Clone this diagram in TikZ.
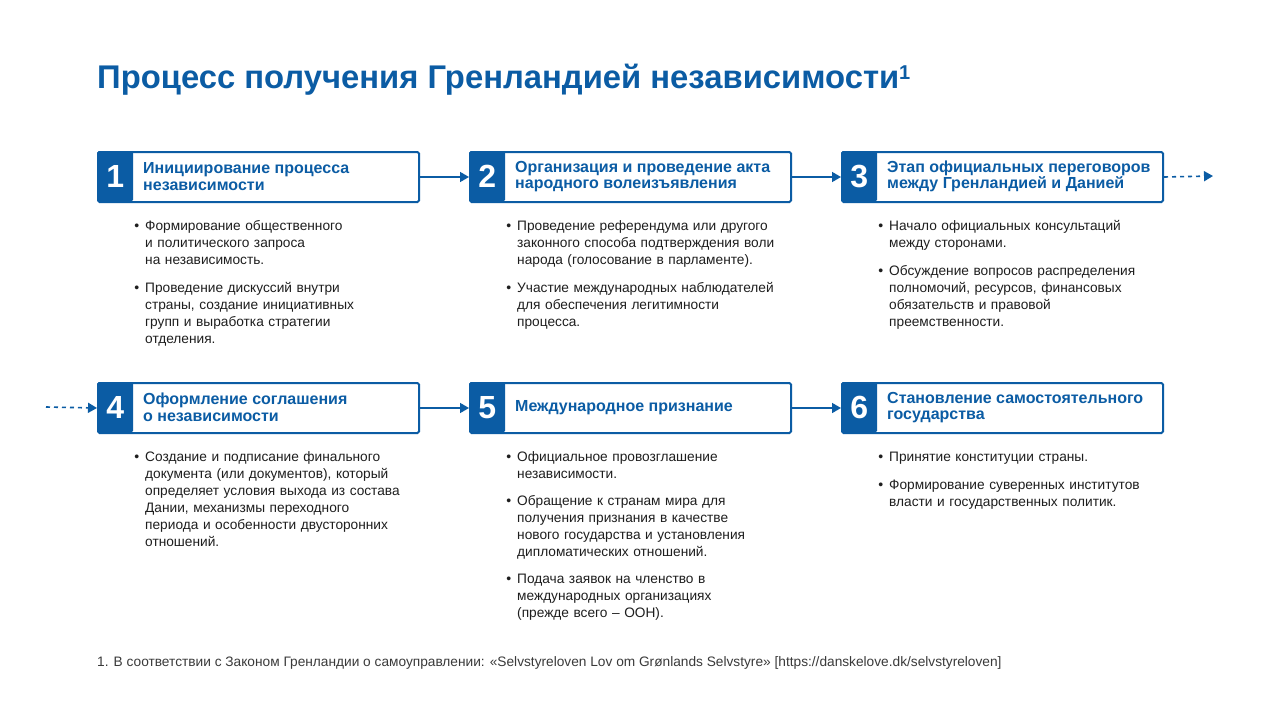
\documentclass[tikz,border=0pt]{standalone}
\usepackage{fontspec}
\setmainfont{Liberation Sans}
\usetikzlibrary{arrows.meta}
\setlength\parindent{0pt}
\definecolor{brand}{HTML}{0B5CA4}
\definecolor{ink}{HTML}{1E1E1E}
\definecolor{note}{HTML}{3A3A3A}
\newcommand{\bul}{\llap{{\fontsize{14}{14}\selectfont\textbullet}\hspace{6pt}}}
\tikzset{
  stagebox/.style={draw=brand, line width=2pt, rounded corners=1.5pt, minimum width=321pt, minimum height=50pt, inner sep=0pt, anchor=north west},
  numbox/.style={fill=brand, text=white, font=\fontsize{32}{32}\selectfont\bfseries, minimum width=36pt, minimum height=50pt, inner sep=0pt, rounded corners=1.5pt, anchor=north west},
  stagetitle/.style={text=brand, font=\fontsize{16}{16.5}\selectfont\bfseries, align=left, inner sep=0pt, anchor=west},
  itemtext/.style={text=ink, font=\fontsize{13.7}{17}\selectfont, text width=270pt, align=left, inner sep=0pt, anchor=base west},
  conn/.style={draw=brand, line width=1.6pt, -{Triangle[length=9pt,width=10pt]}},
  connd/.style={conn, dash pattern=on 4pt off 4pt},
}
\begin{document}
\begin{tikzpicture}[x=1pt,y=-1pt]
\useasboundingbox[fill=white] (0,0) rectangle (1280,720);

% title
\node[anchor=base west, inner sep=0pt, text=brand, font=\fontsize{32.8}{33}\selectfont\bfseries] (title) at (97,88)
  {Процесс получения Гренландией независимости\raisebox{9pt}{\fontsize{20}{20}\selectfont 1}};

% number squares
\node[numbox] (n1) at (97,151) {1};
\node[numbox] (n2) at (469,151) {2};
\node[numbox] (n3) at (841,151) {3};
\node[numbox] (n4) at (97,382) {4};
\node[numbox] (n5) at (469,382) {5};
\node[numbox] (n6) at (841,382) {6};

% stage boxes
\node[stagebox] (b1) at (97,151) {};
\node[stagebox] (b2) at (469,151) {};
\node[stagebox] (b3) at (841,151) {};
\node[stagebox] (b4) at (97,382) {};
\node[stagebox] (b5) at (469,382) {};
\node[stagebox] (b6) at (841,382) {};

% stage titles
\node[stagetitle] (t1) at (143,176.5) {Инициирование процесса\\независимости};
\node[stagetitle] (t2) at (515,176.5) {Организация и проведение акта\\народного волеизъявления};
\node[stagetitle] (t3) at (887,176.5) {Этап официальных переговоров\\между Гренландией и Данией};
\node[stagetitle] (t4) at (143,407.5) {Оформление соглашения\\о независимости};
\node[stagetitle] (t5) at (515,407.5) {Международное признание};
\node[stagetitle] (t6) at (887,407.5) {Становление самостоятельного\\государства};

% connectors
\draw[conn] (b1.east) -- (b2.west);
\draw[conn] (b2.east) -- (b3.west);
\coordinate (c3) at (1213,176);
\draw[connd] (b3.east) -- (c3);
\coordinate (c4) at (46,407);
\draw[connd] (c4) -- (b4.west);
\draw[conn] (b4.east) -- (b5.west);
\draw[conn] (b5.east) -- (b6.west);

% bullet items, column 1
\node[itemtext] (i11) at (145,230) {\bul Формирование общественного\\и политического запроса\\на независимость.};
\node[itemtext] (i12) at (145,292) {\bul Проведение дискуссий внутри\\страны, создание инициативных\\групп и выработка стратегии\\отделения.};
% column 2
\node[itemtext] (i21) at (517,230) {\bul Проведение референдума или другого\\законного способа подтверждения воли\\народа (голосование в парламенте).};
\node[itemtext] (i22) at (517,292) {\bul Участие международных наблюдателей\\для обеспечения легитимности\\процесса.};
% column 3
\node[itemtext] (i31) at (889,230) {\bul Начало официальных консультаций\\между сторонами.};
\node[itemtext] (i32) at (889,275) {\bul Обсуждение вопросов распределения\\полномочий, ресурсов, финансовых\\обязательств и правовой\\преемственности.};
% row 2
\node[itemtext] (i41) at (145,461) {\bul Создание и подписание финального\\документа (или документов), который\\определяет условия выхода из состава\\Дании, механизмы переходного\\периода и особенности двусторонних\\отношений.};
\node[itemtext] (i51) at (517,461) {\bul Официальное провозглашение\\независимости.};
\node[itemtext] (i52) at (517,505) {\bul Обращение к странам мира для\\получения признания в качестве\\нового государства и установления\\дипломатических отношений.};
\node[itemtext] (i53) at (517,583) {\bul Подача заявок на членство в\\международных организациях\\(прежде всего – ООН).};
\node[itemtext] (i61) at (889,461) {\bul Принятие конституции страны.};
\node[itemtext] (i62) at (889,489) {\bul Формирование суверенных институтов\\власти и государственных политик.};

% footnote
\node[anchor=base west, inner sep=0pt, text=note, font=\fontsize{13.7}{14}\selectfont] (fn) at (97,666.5)
  {1. В соответствии с Законом Гренландии о самоуправлении: «Selvstyreloven Lov om Grønlands Selvstyre» [https://danskelove.dk/selvstyreloven]};
\end{tikzpicture}
\end{document}
